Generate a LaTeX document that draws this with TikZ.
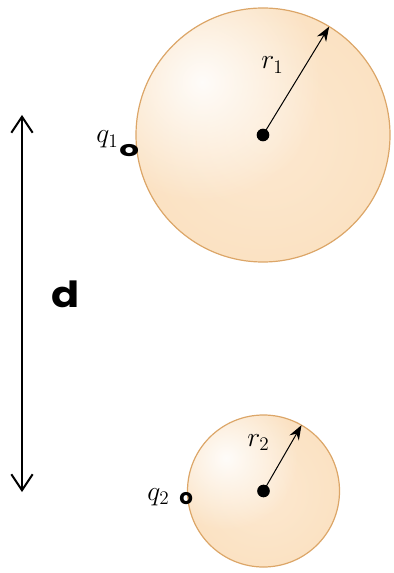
\documentclass[tikz,border=0pt]{standalone}
\usepackage{fontspec}
\usetikzlibrary{arrows.meta,calc,fadings}
\newfontfamily\lblfont{Poppins}
\definecolor{BodyClr}{RGB}{251,225,193}
\definecolor{RimClr}{RGB}{244,194,140}
\definecolor{EdgeClr}{RGB}{220,166,104}
\pgfdeclareradialshading{sphereglow}{\pgfpoint{0bp}{0bp}}{color(0bp)=(BodyClr!75!white); color(28bp)=(BodyClr); color(43bp)=(BodyClr!75!RimClr); color(50bp)=(RimClr)}
\tikzfading[name=softglow,inner color=transparent!10,outer color=transparent!100]

\begin{document}
\begin{tikzpicture}[x=.75pt,y=-.75pt,
  rim/.style={draw=EdgeClr,line width=.9pt},
  dot/.style={circle,fill=black,inner sep=0pt,minimum size=9.5pt},
  radius/.style={-{Stealth[length=11pt,width=8pt]},line width=.75pt},
  dim/.style={{Straight Barb[length=12pt,width=16pt]}-{Straight Barb[length=12pt,width=16pt]},line width=1.5pt},
  mlabel/.style={font=\fontsize{20}{24}\selectfont,inner sep=0pt},
  slabel/.style={font=\lblfont\bfseries\fontsize{16}{19}\selectfont,inner sep=0pt}]
\useasboundingbox (0,0) rectangle (393,573);

\coordinate (C1) at (263,135);
\coordinate (C2) at (263.5,491);
\coordinate (H1) at (202,82);
\coordinate (H2) at (226,458);
\coordinate (R1) at ($(C1)+(-58.6:127)$);
\coordinate (R2) at ($(C2)+(-60:76)$);
\coordinate (Dtop) at (22,115);
\coordinate (Dbot) at (22,492);

\begin{scope}
\clip (C1) circle (127);
\shade[shading=sphereglow] (C1) circle (127);
\fill[white,path fading=softglow] (H1) circle (120);
\end{scope}
\begin{scope}
\clip (C2) circle (76);
\shade[shading=sphereglow] (C2) circle (76);
\fill[white,path fading=softglow] (H2) circle (72);
\end{scope}
\draw[rim] (C1) circle (127);
\draw[rim] (C2) circle (76);

\node[dot] (D1) at (C1) {};
\node[dot] (D2) at (C2) {};
\draw[radius] (D1.center) -- (R1);
\draw[radius] (D2.center) -- (R2);

\node[mlabel,anchor=base west] (r1) at (261,69) {$r_1$};
\node[mlabel,anchor=base west] (r2) at (247,446) {$r_2$};
\node[mlabel,anchor=base west] (q1) at (96,143) {$q_1$};
\node[slabel,anchor=base west,xscale=1.45] (o1) at (119,157) {o};
\node[mlabel,anchor=base west] (q2) at (147,500) {$q_2$};
\node[slabel,anchor=base west] (o2) at (179,504) {o};

\draw[dim] (Dtop) -- (Dbot);
\node[font=\lblfont\bfseries\fontsize{27}{30}\selectfont,inner sep=0pt,anchor=base,xscale=1.15] (d) at (66,307) {d};

\end{tikzpicture}
\end{document}
